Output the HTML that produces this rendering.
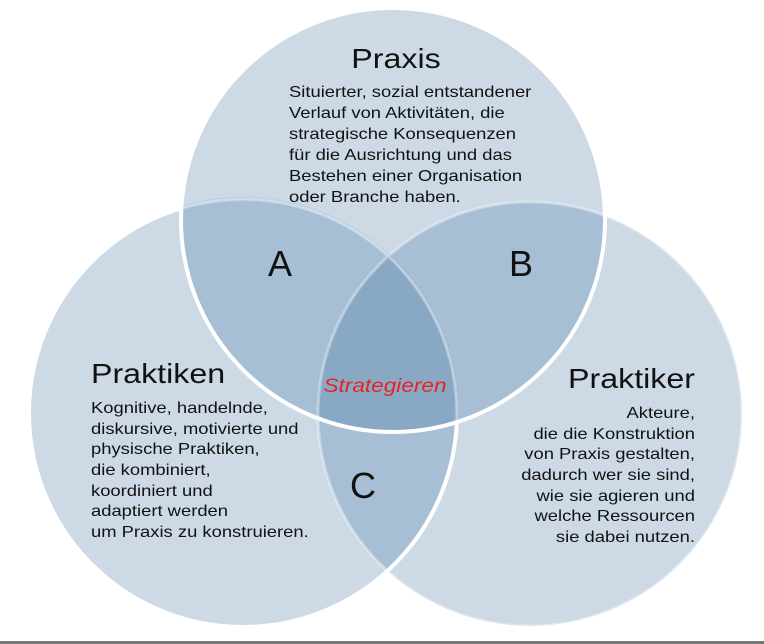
<!DOCTYPE html>
<html><head><meta charset="utf-8"><style>
html,body{margin:0;padding:0;background:#fff;}
svg{display:block;}
text{font-family:"Liberation Sans",sans-serif;fill:#111;}
</style></head><body>
<svg width="764" height="644" viewBox="0 0 764 644" xmlns="http://www.w3.org/2000/svg">
<defs>
<clipPath id="cT"><circle cx="393" cy="220" r="212"/></clipPath>
<clipPath id="cL"><circle cx="243" cy="413" r="214"/></clipPath>
<clipPath id="cR"><circle cx="530" cy="414" r="212"/></clipPath>
</defs>
<rect width="764" height="644" fill="#fff"/>
<circle cx="530" cy="414" r="212" fill="#cddae6"/>
<circle cx="243" cy="413" r="214" fill="#cddae6"/>
<circle cx="393" cy="220" r="212" fill="#cddae6"/>
<g clip-path="url(#cT)"><circle cx="243" cy="413" r="214" fill="#a7bfd5"/><circle cx="530" cy="414" r="212" fill="#a7bfd5"/></g>
<g clip-path="url(#cL)"><circle cx="530" cy="414" r="212" fill="#a7bfd5"/></g>
<g clip-path="url(#cT)"><g clip-path="url(#cL)"><circle cx="530" cy="414" r="212" fill="#89a8c4"/></g></g>
<circle cx="530" cy="414" r="212" fill="none" stroke="#fff" stroke-opacity="0.35" stroke-width="3"/>
<circle cx="243" cy="413" r="214" fill="none" stroke="#fff" stroke-width="4"/>
<g clip-path="url(#cT)"><circle cx="243" cy="413" r="214" fill="none" stroke="#a7bfd5" stroke-width="4"/><g clip-path="url(#cR)"><circle cx="243" cy="413" r="214" fill="none" stroke="#89a8c4" stroke-width="4"/></g><circle cx="243" cy="413" r="214" fill="none" stroke="#fff" stroke-opacity="0.45" stroke-width="3"/></g>
<circle cx="393" cy="220" r="212" fill="none" stroke="#fff" stroke-width="4"/>
<g transform="translate(396,0) scale(1.15,1)"><text x="0" y="68" font-size="28" text-anchor="middle">Praxis</text></g>
<g font-size="16" transform="translate(289,0) scale(1.15,1)">
<text x="0" y="97">Situierter, sozial entstandener</text>
<text x="0" y="118">Verlauf von Aktivitäten, die</text>
<text x="0" y="139">strategische Konsequenzen</text>
<text x="0" y="160">für die Ausrichtung und das</text>
<text x="0" y="181">Bestehen einer Organisation</text>
<text x="0" y="202">oder Branche haben.</text>
</g>
<g transform="translate(91,0) scale(1.15,1)">
<text x="0" y="383" font-size="28">Praktiken</text>
<g font-size="16">
<text x="0" y="413">Kognitive, handelnde,</text>
<text x="0" y="434">diskursive, motivierte und</text>
<text x="0" y="454">physische Praktiken,</text>
<text x="0" y="475">die kombiniert,</text>
<text x="0" y="496">koordiniert und</text>
<text x="0" y="516">adaptiert werden</text>
<text x="0" y="537">um Praxis zu konstruieren.</text>
</g></g>
<g transform="translate(695,0) scale(1.15,1)">
<text x="0" y="388" font-size="28" text-anchor="end">Praktiker</text>
<g font-size="16" text-anchor="end">
<text x="0" y="418">Akteure,</text>
<text x="0" y="439">die die Konstruktion</text>
<text x="0" y="459">von Praxis gestalten,</text>
<text x="0" y="480">dadurch wer sie sind,</text>
<text x="0" y="501">wie sie agieren und</text>
<text x="0" y="521">welche Ressourcen</text>
<text x="0" y="542">sie dabei nutzen.</text>
</g></g>
<g font-size="36" text-anchor="middle">
<text x="280" y="276">A</text>
<text x="521" y="276">B</text>
<text x="363" y="498">C</text>
</g>
<g transform="translate(385,0) scale(1.19,1)"><text x="0" y="392" font-size="19" font-style="italic" text-anchor="middle" style="fill:#e8231f">Strategieren</text></g>
<rect x="0" y="641" width="764" height="3" fill="#777"/>
</svg>
</body></html>
